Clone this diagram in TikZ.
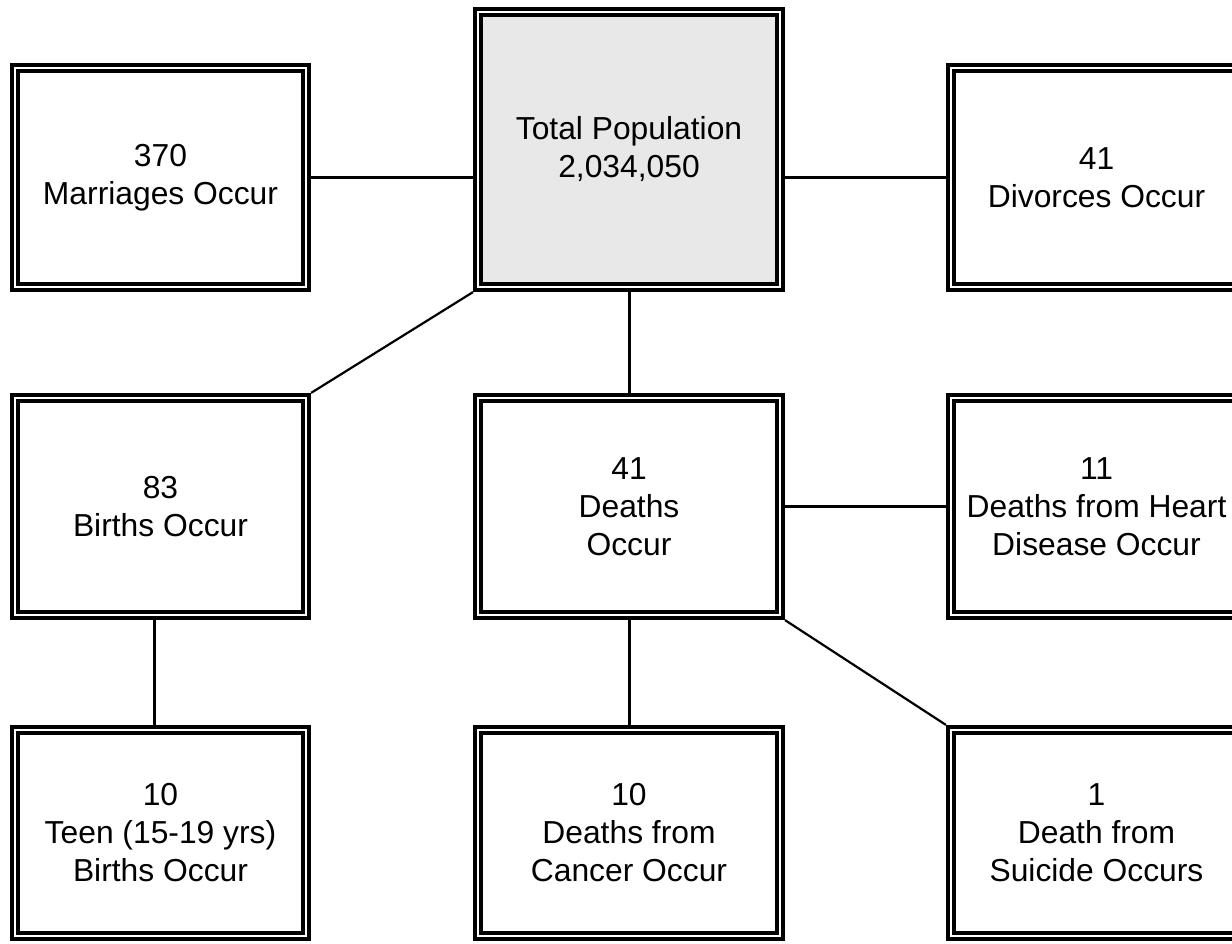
\documentclass[tikz,border=0pt]{standalone}
\usepackage{fontspec}
\setmainfont{Liberation Sans}
\definecolor{totalfill}{RGB}{232,232,232}
\tikzset{
  box/.style={draw, double=white, double distance=1.2pt, line width=2pt,
    outer sep=2.6pt, inner sep=0pt, align=center,
    font=\fontsize{15.9}{19}\selectfont},
  narrow/.style={minimum width=145.4pt},
  wide/.style={minimum width=150.8pt},
  link/.style={line width=1.5pt},
  thinlink/.style={line width=1.1pt}
}
\begin{document}
\begin{tikzpicture}[
    x=0.5pt,
    y=-0.5pt]

    \clip (0,0) rectangle (1232,943);
    \fill[white] (0,0) rectangle (1232,943);

    % Top row
    \node[box, narrow, minimum height=109.4pt] (marr) at (160.5,177.5) {370\\Marriages Occur};
    \node[box, wide, minimum height=137.4pt, fill=totalfill] (total) at (629,149.5) {Total Population\\2,034,050};
    \node[box, narrow, minimum height=109.4pt] (div) at (1096.5,177.5) {41\\Divorces Occur};

    % Middle row
    \node[box, narrow, minimum height=108.4pt] (births) at (160.5,506.5) {83\\Births Occur};
    \node[box, wide, minimum height=108.4pt] (deaths) at (629,506.5) {41\\Deaths\\Occur};
    \node[box, narrow, minimum height=108.4pt] (heart) at (1096.5,506.5) {11\\Deaths from Heart\\Disease Occur};

    % Bottom row
    \node[box, narrow, minimum height=102.9pt] (teen) at (160.5,833) {10\\Teen (15-19 yrs)\\Births Occur};
    \node[box, wide, minimum height=102.9pt] (cancer) at (629,833) {10\\Deaths from\\Cancer Occur};
    \node[box, narrow, minimum height=102.9pt] (suicide) at (1096.5,833) {1\\Death from\\Suicide Occurs};

    % Links
    \draw[link] (marr.east) -- (marr.east -| total.west);
    \draw[link] (div.west -| total.east) -- (div.west);
    \draw[link] (total.south) -- (deaths.north);
    \draw[thinlink] (total.south west) -- (births.north east);
    \draw[thinlink] ([xshift=-3pt]births.south) -- ([xshift=-3pt]teen.north);
    \draw[link] (deaths.east) -- (heart.west);
    \draw[link] (deaths.south) -- (cancer.north);
    \draw[thinlink] (deaths.south east) -- (suicide.north west);
  \end{tikzpicture}
\end{document}
